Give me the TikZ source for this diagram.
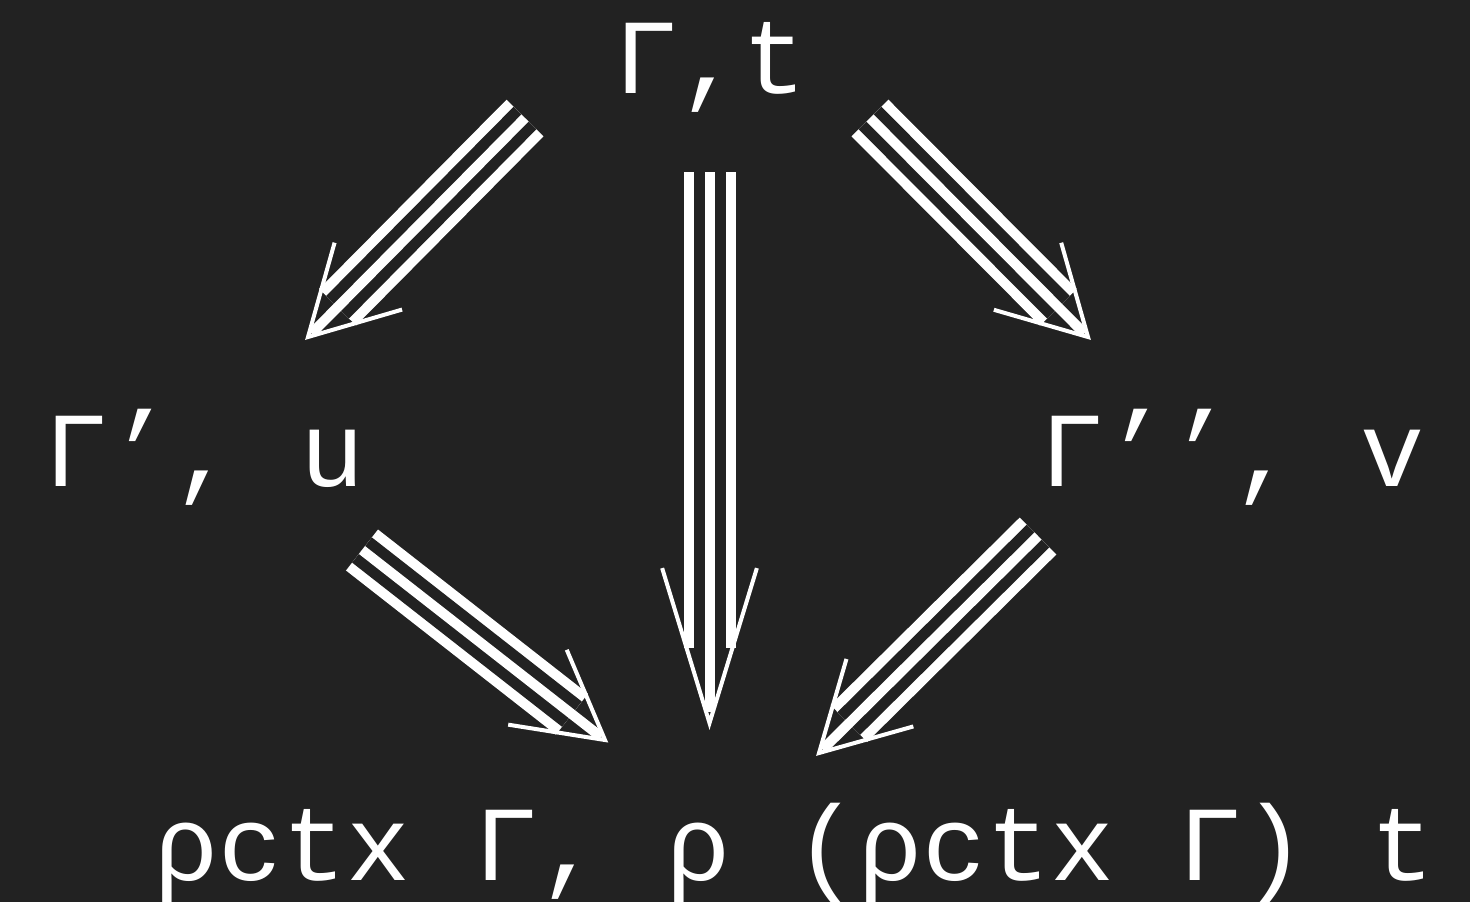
\documentclass[tikz,border=0pt]{standalone}
\usepackage{fontspec}
\newfontfamily\lmono{Liberation Mono}
\usetikzlibrary{calc}
\definecolor{bgc}{HTML}{222222}
\tikzset{
  lbl/.style={anchor=base west, inner sep=0pt, outer sep=0pt, text=white,
    font=\lmono\fontsize{53.35pt}{60pt}\selectfont},
  tw/.style={draw=white, line width=26pt},
  td/.style={draw=bgc, line width=16pt},
  tm/.style={draw=white, line width=5pt},
  tb/.style={draw=white, line width=2pt, miter limit=20},
}
\newcommand{\tarrow}[6]{%
  \draw[tw] (#1) -- ($(#2)!#5!(#1)$);
  \draw[td] (#1) -- ($(#2)!#5!(#1)$);
  \draw[tm] (#1) -- ($(#2)!#6!(#1)$);
  \draw[tb] ($(#2)!#3!#4:(#1)$) -- (#2) -- ($(#2)!#3!-#4:(#1)$);
}
\begin{document}
\begin{tikzpicture}[x=0.5pt, y=-0.5pt]
\fill[bgc] (0,0) rectangle (1470,902);
\useasboundingbox (0,0) rectangle (1470,902);
\node[lbl] (top) at (614,93) {Γ,t};
\node[lbl] (left) at (44,486) {Γ’, u};
\node[lbl] (right) at (1040,486) {Γ’’, v};
\node[lbl] (bot) at (154,880) {ρctx Γ, ρ (ρctx Γ) t};
% arrow end points
\coordinate (s1) at (525,118);   \coordinate (t1) at (308,337);
\coordinate (s2) at (709.5,172); \coordinate (t2) at (709.5,723);
\coordinate (s3) at (870,118);   \coordinate (t3) at (1088,337);
\coordinate (s4) at (362,550);   \coordinate (t4) at (605,740);
\coordinate (s5) at (1038,536);  \coordinate (t5) at (819,753);
\tarrow{s1}{t1}{49pt}{29}{21pt}{2.5pt}
\tarrow{s2}{t2}{81pt}{17}{37.5pt}{5.5pt}
\tarrow{s3}{t3}{49pt}{29}{21pt}{2.5pt}
\tarrow{s4}{t4}{49pt}{29}{21pt}{2.5pt}
\tarrow{s5}{t5}{49pt}{29}{21pt}{2.5pt}
\end{tikzpicture}
\end{document}
